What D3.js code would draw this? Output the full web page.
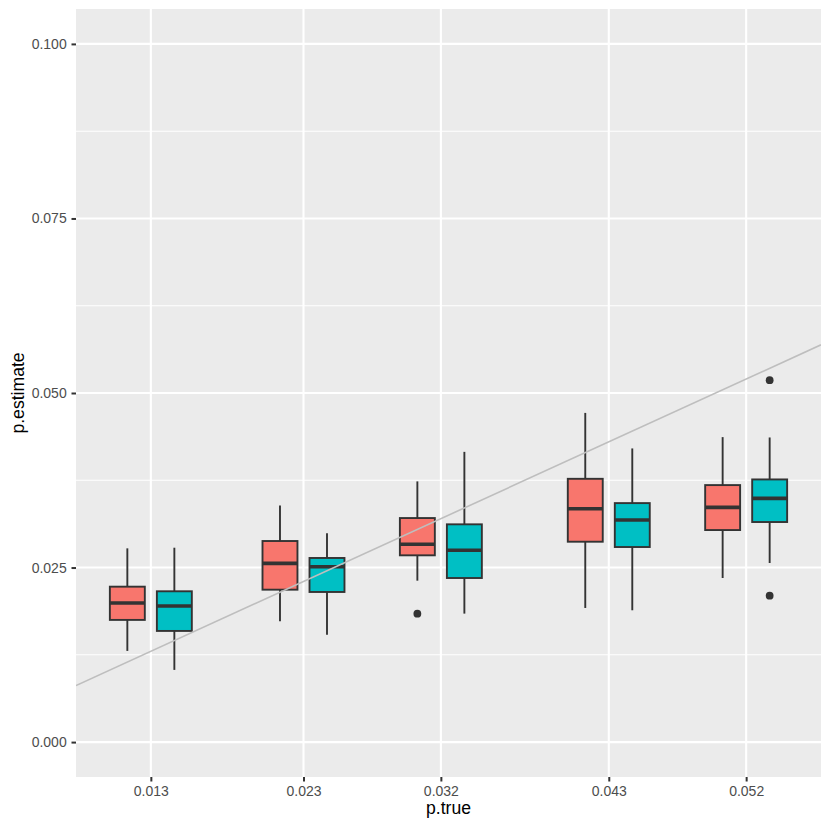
<!DOCTYPE html>
<html>
<head>
<meta charset="utf-8">
<script src="https://cdn.jsdelivr.net/npm/d3@7"></script>
<style>
  body { margin: 0; background: #fff; }
  text { font-family: "Liberation Sans", Arial, sans-serif; }
</style>
</head>
<body>
<script>
// p.true categories (x positions) and y tick values
const pTrue = [0.013, 0.023, 0.032, 0.043, 0.052];
const yTicks = [0, 0.025, 0.05, 0.075, 0.1];
const yMinor = [0.0125, 0.0375, 0.0625, 0.0875];

// box stats per p.true: [lower whisker, q1, median, q3, upper whisker]
const seriesA = [
  [0.01306, 0.0175, 0.01993, 0.02226, 0.02775],
  [0.01731, 0.02183, 0.0256, 0.0288, 0.0339],
  [0.02312, 0.02675, 0.02833, 0.03209, 0.03734],
  [0.01921, 0.0287, 0.03342, 0.03771, 0.04715],
  [0.0235, 0.03037, 0.03362, 0.03681, 0.04368]
];
const seriesB = [
  [0.01034, 0.01592, 0.0195, 0.0216, 0.02784],
  [0.01539, 0.0215, 0.02512, 0.02637, 0.0299],
  [0.0184, 0.0235, 0.02747, 0.03119, 0.04157],
  [0.01888, 0.02794, 0.0318, 0.03423, 0.04206],
  [0.02565, 0.03152, 0.03491, 0.03762, 0.04363]
];
const outliersA = [[], [], [0.0184], [], []];
const outliersB = [[], [], [], [], [0.05183, 0.02097]];

const colors = ["#F8766D", "#00BFC4"];

const width = 830, height = 830;
const margin = {top: 9, right: 9, bottom: 53, left: 76};

// box width and dodge offset, in x data units
const boxW = 0.00229;
const dodge = 0.00154;

const svg = d3.select("body").append("svg")
  .attr("width", width)
  .attr("height", height);

const xMin = d3.min(pTrue) - dodge - boxW / 2;
const xMax = d3.max(pTrue) + dodge + boxW / 2;
const pad = (xMax - xMin) * 0.05;

const x = d3.scaleLinear()
  .domain([xMin - pad, xMax + pad])
  .range([margin.left, width - margin.right]);

const y = d3.scaleLinear()
  .domain([-0.005, 0.105])
  .range([height - margin.bottom, margin.top]);

// panel
svg.append("rect")
  .attr("x", margin.left)
  .attr("y", margin.top)
  .attr("width", width - margin.left - margin.right)
  .attr("height", height - margin.top - margin.bottom)
  .attr("fill", "#EBEBEB");

svg.append("g").selectAll("line")
  .data(yMinor)
  .enter().append("line")
  .attr("x1", margin.left).attr("x2", width - margin.right)
  .attr("y1", d => y(d)).attr("y2", d => y(d))
  .attr("stroke", "#fff").attr("stroke-width", 1.1);

svg.append("g").selectAll("line")
  .data(yTicks)
  .enter().append("line")
  .attr("x1", margin.left).attr("x2", width - margin.right)
  .attr("y1", d => y(d)).attr("y2", d => y(d))
  .attr("stroke", "#fff").attr("stroke-width", 2.1);

svg.append("g").selectAll("line")
  .data(pTrue)
  .enter().append("line")
  .attr("x1", d => x(d)).attr("x2", d => x(d))
  .attr("y1", margin.top).attr("y2", height - margin.bottom)
  .attr("stroke", "#fff").attr("stroke-width", 2.1);

// axes
const xAxis = svg.append("g")
  .attr("transform", `translate(0,${height - margin.bottom})`)
  .call(d3.axisBottom(x).tickValues(pTrue).tickFormat(d3.format(".3f")).tickSizeOuter(0).tickSize(4.5).tickPadding(5));

const yAxis = svg.append("g")
  .attr("transform", `translate(${margin.left},0)`)
  .call(d3.axisLeft(y).tickValues(yTicks).tickFormat(d3.format(".3f")).tickSizeOuter(0).tickSize(4.5).tickPadding(4.8));

[xAxis, yAxis].forEach(g => {
  g.select(".domain").remove();
  g.selectAll(".tick line").attr("stroke", "#333333").attr("stroke-width", 2);
  g.selectAll(".tick text").attr("fill", "#4D4D4D").style("font-size", "14px");
});

// boxes
const clip = svg.append("clipPath").attr("id", "panel")
  .append("rect")
  .attr("x", margin.left).attr("y", margin.top)
  .attr("width", width - margin.left - margin.right)
  .attr("height", height - margin.top - margin.bottom);

[seriesA, seriesB].forEach((series, s) => {
  const off = s === 0 ? -dodge : dodge;
  const outs = s === 0 ? outliersA : outliersB;
  const g = svg.append("g").selectAll("g")
    .data(series)
    .enter().append("g");

  g.append("line")
    .attr("x1", (d, i) => x(pTrue[i] + off)).attr("x2", (d, i) => x(pTrue[i] + off))
    .attr("y1", d => y(d[0])).attr("y2", d => y(d[1]))
    .attr("stroke", "#333333").attr("stroke-width", 1.9);
  g.append("line")
    .attr("x1", (d, i) => x(pTrue[i] + off)).attr("x2", (d, i) => x(pTrue[i] + off))
    .attr("y1", d => y(d[3])).attr("y2", d => y(d[4]))
    .attr("stroke", "#333333").attr("stroke-width", 1.9);
  g.append("rect")
    .attr("x", (d, i) => x(pTrue[i] + off - boxW / 2))
    .attr("width", (d, i) => x(pTrue[i] + off + boxW / 2) - x(pTrue[i] + off - boxW / 2))
    .attr("y", d => y(d[3]))
    .attr("height", d => y(d[1]) - y(d[3]))
    .attr("fill", colors[s])
    .attr("stroke", "#333333").attr("stroke-width", 1.9);
  g.append("line")
    .attr("x1", (d, i) => x(pTrue[i] + off - boxW / 2))
    .attr("x2", (d, i) => x(pTrue[i] + off + boxW / 2))
    .attr("y1", d => y(d[2])).attr("y2", d => y(d[2]))
    .attr("stroke", "#333333").attr("stroke-width", 3.6);

  g.selectAll("circle")
    .data((d, i) => outs[i].map(v => ({v: v, i: i})))
    .enter().append("circle")
    .attr("cx", d => x(pTrue[d.i] + off))
    .attr("cy", d => y(d.v))
    .attr("r", 3.9)
    .attr("fill", "#333333");
});

// identity line p.estimate = p.true
const xd = x.domain();
svg.append("line")
  .attr("clip-path", "url(#panel)")
  .attr("x1", x(xd[0])).attr("y1", y(xd[0]))
  .attr("x2", x(xd[1])).attr("y2", y(xd[1]))
  .attr("stroke", "#BEBEBE").attr("stroke-width", 1.6);

// axis titles
svg.append("text")
  .attr("x", (margin.left + width - margin.right) / 2)
  .attr("y", 814)
  .attr("text-anchor", "middle")
  .style("font-size", "17.6px")
  .attr("fill", "#000")
  .text("p.true");

svg.append("text")
  .attr("transform", `translate(24,${(margin.top + height - margin.bottom) / 2}) rotate(-90)`)
  .attr("text-anchor", "middle")
  .style("font-size", "17.6px")
  .attr("fill", "#000")
  .text("p.estimate");
</script>
</body>
</html>
